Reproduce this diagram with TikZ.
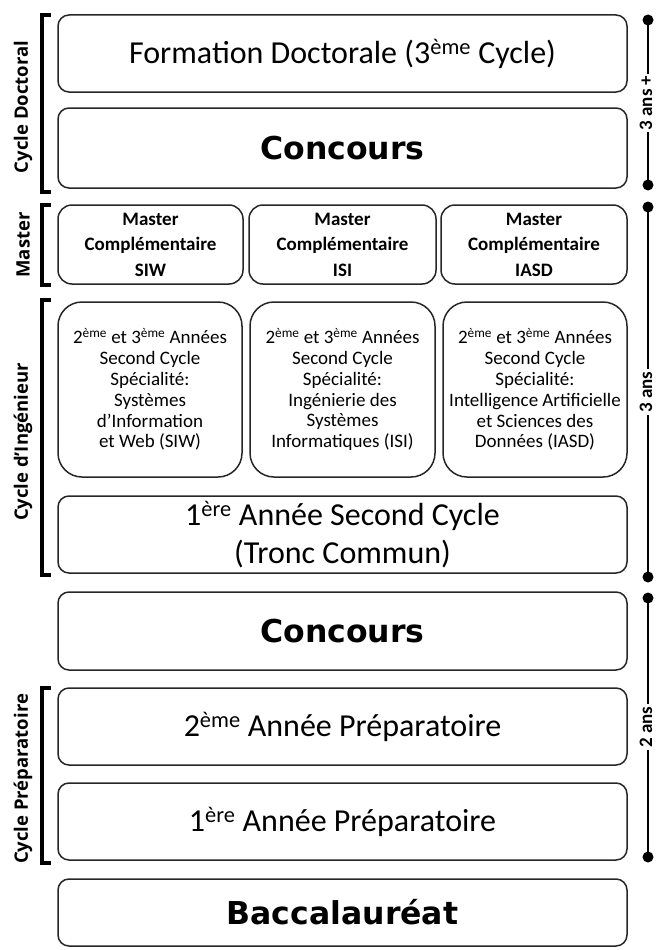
\documentclass[tikz,border=0pt]{standalone}
\usepackage{fontspec}
\setmainfont{Carlito}
\newfontfamily\heavyfont{DejaVu Sans}
\newfontfamily\labfont{Open Sans}
\begin{document}
\begin{tikzpicture}[x=1pt,y=-1pt,
  box/.style={draw=black!85,line width=1.5pt,rounded corners=11pt,inner sep=0pt,align=center,minimum width=569pt},
  big/.style={box,font=\fontsize{32}{38}\selectfont},
  heavy/.style={box,font=\heavyfont\bfseries\fontsize{31.5}{38}\selectfont},
  mbox/.style={box,rounded corners=14pt,font=\bfseries\fontsize{19}{25.5}\selectfont,minimum height=79pt},
  sbox/.style={box,rounded corners=24pt,font=\fontsize{19}{20.8}\selectfont,minimum height=175pt},
  sidelabel/.style={rotate=90,font=\labfont\bfseries\fontsize{18.5}{20}\selectfont,inner sep=1pt},
  brk/.style={line width=3.5pt,line cap=rect},
  tl/.style={line width=2.5pt},
  dot/.style={circle,fill=black,inner sep=0pt,minimum size=11pt},
  tlab/.style={rotate=90,fill=white,font=\bfseries\fontsize{19}{20}\selectfont,inner xsep=2pt,inner ysep=0pt}
]
\useasboundingbox (0,0) rectangle (657,950);
% boxes
\node[big,minimum height=77pt] (doc) at (342.5,53.5) {Formation Doctorale (3\textsuperscript{ème} Cycle)};
\node[heavy,minimum height=80pt] (conc1) at (342.5,148) {Concours};
\node[mbox,minimum width=185pt] (m1) at (150.5,244.5) {Master\\Complémentaire\\SIW};
\node[mbox,minimum width=187pt] (m2) at (342.5,244.5) {Master\\Complémentaire\\ISI};
\node[mbox,minimum width=186pt] (m3) at (534,244.5) {Master\\Complémentaire\\IASD};
\node[sbox,minimum width=184pt] (s1) at (150,389.5) {2\textsuperscript{ème} et 3\textsuperscript{ème} Années\\Second Cycle\\Spécialité:\\Systèmes\\d’Information\\et Web (SIW)};
\node[sbox,minimum width=185pt] (s2) at (342.5,389.5) {2\textsuperscript{ème} et 3\textsuperscript{ème} Années\\Second Cycle\\Spécialité:\\Ingénierie des\\Systèmes\\Informatiques (ISI)};
\node[sbox,minimum width=184pt] (s3) at (535,389.5) {2\textsuperscript{ème} et 3\textsuperscript{ème} Années\\Second Cycle\\Spécialité:\\Intelligence Artificielle\\et Sciences des\\Données (IASD)};
\node[big,minimum height=77pt] (tc) at (342.5,534.5) {1\textsuperscript{ère} Année Second Cycle\\(Tronc Commun)};
\node[heavy,minimum height=78pt] (conc2) at (342.5,631) {Concours};
\node[big,minimum height=77pt] (p2) at (342.5,726.5) {2\textsuperscript{ème} Année Préparatoire};
\node[big,minimum height=77pt] (p1) at (342.5,821.5) {1\textsuperscript{ère} Année Préparatoire};
\node[heavy,minimum height=67pt] (bac) at (342.5,912.5) {Baccalauréat};
% left brackets
\draw[brk] (49,15) -- (42,15) -- (42,192) -- (49,192);
\draw[brk] (49,205) -- (42,205) -- (42,285) -- (49,285);
\draw[brk] (49,300) -- (42,300) -- (42,575) -- (49,575);
\draw[brk] (49,688) -- (42,688) -- (42,863) -- (49,863);
\node[sidelabel] (lab1) at (23,107) {Cycle Doctoral};
\node[sidelabel] (lab2) at (23,245) {Master};
\node[sidelabel] (lab3) at (23,442) {Cycle d’Ingénieur};
\node[sidelabel] (lab4) at (23,779) {Cycle Préparatoire};
% right timeline
\node[dot] (d1) at (648,20) {};
\node[dot] (d2) at (648,185) {};
\node[dot] (d3) at (648,207) {};
\node[dot] (d4) at (648,577) {};
\node[dot] (d5) at (648,598) {};
\node[dot] (d6) at (648,857) {};
\draw[tl] (d1.center) -- (d2.center);
\draw[tl] (d3.center) -- (d4.center);
\draw[tl] (d5.center) -- (d6.center);
\node[tlab] (t1) at (646,103) {3 ans +};
\node[tlab] (t2) at (646,392) {3 ans};
\node[tlab] (t3) at (646,727) {2 ans};
\end{tikzpicture}
\end{document}
